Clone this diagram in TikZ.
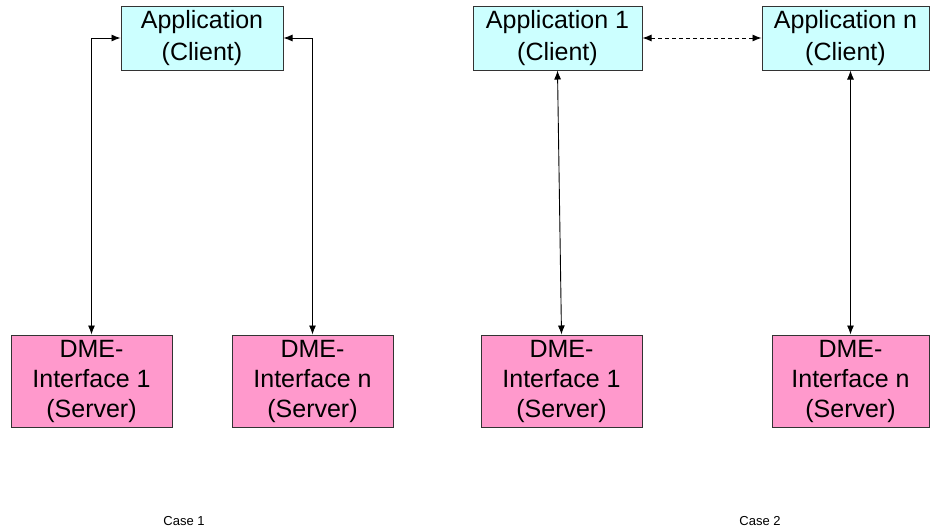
\documentclass[tikz,border=0pt]{standalone}
\usepackage{fontspec}
\setmainfont{Liberation Sans}
\usetikzlibrary{arrows.meta,positioning}
\definecolor{clientcol}{HTML}{CCFFFF}
\definecolor{servercol}{HTML}{FF99CC}
\definecolor{edgecol}{HTML}{333333}
\tikzset{%
	client/.style = {draw=edgecol, fill=clientcol, line width=1pt, minimum height=64pt, inner sep=0pt, align=center, font=\fontsize{25}{32}\selectfont},
	server/.style = {draw=edgecol, fill=servercol, line width=1pt, minimum height=92pt, inner sep=0pt, align=center, font=\fontsize{25}{30}\selectfont},
	link/.style   = {line width=0.9pt, {Latex[length=9pt,width=7pt]}-{Latex[length=9pt,width=7pt]}},
	caption/.style= {font=\fontsize{13}{15}\selectfont},
}
\begin{document}
\begin{tikzpicture}[x=1pt,y=-1pt]
	\useasboundingbox (0,0) rectangle (930,530);
	
	% Case 1
	\node[client, minimum width=162pt] (app) at (202,38) {Application\\(Client)};
	\node[server, minimum width=161pt] (dmeA) at (91.5,381) {DME-\\Interface 1\\(Server)};
	\node[server, minimum width=161pt] (dmeB) at (312.5,381) {DME-\\Interface n\\(Server)};
	\draw[link] (dmeA.north) |- (app.west);
	\draw[link] (dmeB.north) |- (app.east);
	\node[caption] (caseA) at (184,521) {Case 1};
	
	% Case 2
	\node[client, minimum width=169pt] (appA) at (557.5,38) {Application 1\\(Client)};
	\node[client, minimum width=167pt] (appN) at (845.5,38) {Application n\\(Client)};
	\node[server, minimum width=161pt] (dmeC) at (561.5,381) {DME-\\Interface 1\\(Server)};
	\node[server, minimum width=157pt] (dmeD) at (850.5,381) {DME-\\Interface n\\(Server)};
	\draw[link] (appA.south) -- (dmeC.north);
	\draw[link] (appN.south -| dmeD.north) -- (dmeD.north);
	\draw[link, dash pattern=on 4pt off 3pt] (appA.east) -- (appN.west);
	\node[caption] (caseB) at (760,521) {Case 2};
\end{tikzpicture}
\end{document}
